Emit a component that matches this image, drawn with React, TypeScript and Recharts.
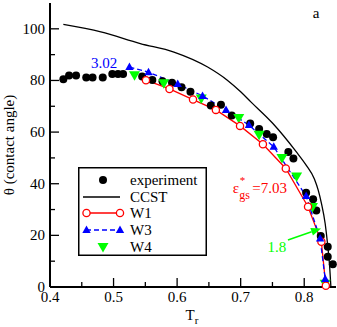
import React from 'react'
import { ComposedChart, Line, Scatter, XAxis, YAxis, Legend, ReferenceDot, ReferenceLine } from 'recharts'

// experimental contact angles
const experiment = [
  { x: 0.421, y: 80.5 }, { x: 0.430, y: 81.9 }, { x: 0.441, y: 81.9 }, { x: 0.457, y: 81.1 },
  { x: 0.467, y: 81.1 }, { x: 0.483, y: 81.1 }, { x: 0.498, y: 82.5 }, { x: 0.507, y: 82.5 },
  { x: 0.515, y: 82.5 }, { x: 0.545, y: 81.5 }, { x: 0.561, y: 80.2 }, { x: 0.577, y: 79.7 },
  { x: 0.592, y: 79.1 }, { x: 0.607, y: 77.4 }, { x: 0.621, y: 75.6 }, { x: 0.653, y: 70.3 },
  { x: 0.669, y: 70.6 }, { x: 0.686, y: 66.4 }, { x: 0.715, y: 63.3 }, { x: 0.729, y: 61.2 },
  { x: 0.741, y: 59.3 }, { x: 0.751, y: 58.0 }, { x: 0.775, y: 52.3 }, { x: 0.783, y: 49.8 },
  { x: 0.803, y: 36.5 }, { x: 0.814, y: 34.0 }, { x: 0.819, y: 29.6 }, { x: 0.826, y: 19.8 },
  { x: 0.837, y: 15.6 }, { x: 0.837, y: 11.7 }, { x: 0.845, y: 8.8 },
]

const ccst = [
  { x: 0.421, y: 101.7 }, { x: 0.480, y: 98.8 }, { x: 0.542, y: 94.3 }, { x: 0.595, y: 91.0 },
  { x: 0.648, y: 85.2 }, { x: 0.679, y: 80.1 }, { x: 0.700, y: 75.6 }, { x: 0.716, y: 71.7 },
  { x: 0.750, y: 63.5 }, { x: 0.787, y: 52.5 }, { x: 0.803, y: 47.2 }, { x: 0.816, y: 41.8 },
  { x: 0.822, y: 37.5 }, { x: 0.827, y: 32.5 }, { x: 0.833, y: 24.5 }, { x: 0.837, y: 16.0 },
  { x: 0.840, y: 8.0 }, { x: 0.842, y: 0 },
]

const w1 = [
  { x: 0.551, y: 80.1 }, { x: 0.588, y: 76.7 }, { x: 0.625, y: 72.6 }, { x: 0.661, y: 68.6 },
  { x: 0.699, y: 62.4 }, { x: 0.735, y: 55.3 }, { x: 0.771, y: 45.9 }, { x: 0.806, y: 31.1 },
  { x: 0.827, y: 17.5 }, { x: 0.834, y: 0.5 },
]

const w3 = [
  { x: 0.525, y: 85.2 }, { x: 0.555, y: 83.2 }, { x: 0.601, y: 78.6 }, { x: 0.640, y: 74.0 },
  { x: 0.677, y: 68.6 }, { x: 0.713, y: 62.7 }, { x: 0.752, y: 54.3 }, { x: 0.803, y: 35.2 },
  { x: 0.825, y: 18.8 }, { x: 0.833, y: 3.1 },
]

const w4 = [
  { x: 0.533, y: 82.0 }, { x: 0.579, y: 78.9 }, { x: 0.638, y: 73.0 }, { x: 0.697, y: 65.5 },
  { x: 0.729, y: 59.0 }, { x: 0.765, y: 50.0 }, { x: 0.788, y: 42.8 }, { x: 0.813, y: 31.0 },
  { x: 0.833, y: 1.3 },
]

const xTicks = [0.4, 0.45, 0.5, 0.55, 0.6, 0.65, 0.7, 0.75, 0.8]
const yTicks = [0, 10, 20, 30, 40, 50, 60, 70, 80, 90, 100]

const RED = '#ff0000'
const BLUE = '#0000ff'
const GREEN = '#00ff00'
const FONT = "'Liberation Serif', 'DejaVu Serif', serif"
const txt = { fontFamily: FONT }

const isMajorX = (v: number) => Math.abs(v * 10 - Math.round(v * 10)) < 1e-6
const isMajorY = (v: number) => v % 20 === 0

// tick renderers: ticks point inward
const BottomTick = (p: any) => {
  const v = p.payload.value
  const major = isMajorX(v)
  return (
    <g>
      <line x1={p.x} y1={p.y} x2={p.x} y2={p.y - (major ? 9 : 5)} stroke="#000" strokeWidth={1.3} />
      {major && (
        <text x={p.x} y={p.y + 15} textAnchor="middle" fontSize={15} fill="#000" style={txt}>
          {v.toFixed(1)}
        </text>
      )}
    </g>
  )
}
const TopTick = (p: any) => {
  const major = isMajorX(p.payload.value)
  return <line x1={p.x} y1={p.y} x2={p.x} y2={p.y + (major ? 9 : 5)} stroke="#000" strokeWidth={1.3} />
}
const LeftTick = (p: any) => {
  const v = p.payload.value
  const major = isMajorY(v)
  return (
    <g>
      <line x1={p.x} y1={p.y} x2={p.x + (major ? 9 : 5)} y2={p.y} stroke="#000" strokeWidth={1.3} />
      {major && (
        <text x={p.x - 5} y={p.y + 5} textAnchor="end" fontSize={15} fill="#000" style={txt}>
          {v}
        </text>
      )}
    </g>
  )
}
const RightTick = (p: any) => {
  const major = isMajorY(p.payload.value)
  return <line x1={p.x} y1={p.y} x2={p.x - (major ? 9 : 5)} y2={p.y} stroke="#000" strokeWidth={1.3} />
}

// markers
const dotExp = (cx: number, cy: number, k?: any) => <circle key={k} cx={cx} cy={cy} r={4} fill="#000" />
const dotW1 = (cx: number, cy: number, k?: any) => (
  <circle key={k} cx={cx} cy={cy} r={3.6} fill="#fff" stroke={RED} strokeWidth={1.3} />
)
const triUp = (cx: number, cy: number, k?: any) => (
  <polygon key={k} points={`${cx},${cy - 4.5} ${cx - 4.2},${cy + 3} ${cx + 4.2},${cy + 3}`} fill={BLUE} />
)
const triDown = (cx: number, cy: number, k?: any) => (
  <polygon key={k} points={`${cx - 5.5},${cy - 4} ${cx + 5.5},${cy - 4} ${cx},${cy + 5.5}`} fill={GREEN} />
)

const Arrow = (p: any) => {
  const { x1, y1, x2, y2 } = p
  const dx = x2 - x1
  const dy = y2 - y1
  const len = Math.sqrt(dx * dx + dy * dy)
  const ux = dx / len
  const uy = dy / len
  const bx = x2 - ux * 10
  const by = y2 - uy * 10
  const hw = 4
  return (
    <g>
      <line x1={x1} y1={y1} x2={bx} y2={by} stroke={GREEN} strokeWidth={1.5} />
      <polygon
        points={`${x2},${y2} ${bx - uy * hw},${by + ux * hw} ${bx + uy * hw},${by - ux * hw}`}
        fill={GREEN}
      />
    </g>
  )
}

const LegendBox = () => (
  <svg width={130} height={90} style={txt}>
    <rect x={0.75} y={0.75} width={127.5} height={87.5} fill="#fff" stroke="#000" strokeWidth={1.5} />
    {dotExp(25, 13)}
    <text x={52} y={18} fontSize={15} style={txt}>experiment</text>
    <line x1={5} y1={30} x2={42} y2={30} stroke="#000" strokeWidth={1.3} />
    <text x={52} y={35} fontSize={15} style={txt}>CCST</text>
    <line x1={8} y1={46} x2={42} y2={46} stroke={RED} strokeWidth={1.3} />
    {dotW1(8.5, 46)}
    {dotW1(42, 46)}
    <text x={52} y={51} fontSize={15} style={txt}>W1</text>
    <line x1={8} y1={63} x2={42} y2={63} stroke={BLUE} strokeWidth={1.3} strokeDasharray="5 3" />
    {triUp(8.5, 63)}
    {triUp(42, 63)}
    <text x={52} y={68} fontSize={15} style={txt}>W3</text>
    {triDown(25, 80)}
    <text x={52} y={85} fontSize={15} style={txt}>W4</text>
  </svg>
)

export default function App() {
  return (
    <div style={{ position: 'absolute', left: 0, top: 0, background: '#fff' }}>
      <ComposedChart
        width={337}
        height={327}
        margin={{ top: 3, right: 1, bottom: 0, left: 0 }}
        style={txt}
      >
        <XAxis
          xAxisId={0}
          type="number"
          dataKey="x"
          domain={[0.4, 0.85]}
          ticks={xTicks}
          interval={0}
          height={40}
          tickSize={0}
          tickMargin={0}
          tickLine={false}
          tick={BottomTick}
          axisLine={{ stroke: '#000', strokeWidth: 2 }}
          label={{
            content: () => (
              <text x={192} y={320} textAnchor="middle" fontSize={15} style={txt}>
                T<tspan dy={4} fontSize={11}>r</tspan>
              </text>
            ),
          }}
        />
        <XAxis
          xAxisId="top"
          orientation="top"
          type="number"
          domain={[0.4, 0.85]}
          ticks={xTicks}
          interval={0}
          height={0}
          tickSize={0}
          tickMargin={0}
          tickLine={false}
          tick={TopTick}
          axisLine={{ stroke: '#000', strokeWidth: 2 }}
        />
        <YAxis
          yAxisId={0}
          type="number"
          dataKey="y"
          domain={[0, 110]}
          ticks={yTicks}
          interval={0}
          width={50}
          tickSize={0}
          tickMargin={0}
          tickLine={false}
          tick={LeftTick}
          axisLine={{ stroke: '#000', strokeWidth: 2 }}
          label={{
            content: () => (
              <text
                x={13.5}
                y={145}
                transform="rotate(-90 13.5 145)"
                textAnchor="middle"
                fontSize={15}
                style={txt}
              >
                θ  (contact angle)
              </text>
            ),
          }}
        />
        <YAxis
          yAxisId="right"
          orientation="right"
          type="number"
          domain={[0, 110]}
          ticks={yTicks}
          interval={0}
          width={0}
          tickSize={0}
          tickMargin={0}
          tickLine={false}
          tick={RightTick}
          axisLine={{ stroke: '#000', strokeWidth: 2 }}
        />

        <Line
          data={ccst}
          dataKey="y"
          type="monotone"
          stroke="#000"
          strokeWidth={1.3}
          dot={false}
          activeDot={false}
          isAnimationActive={false}
        />
        <Scatter
          data={experiment}
          dataKey="y"
          shape={(p: any) => dotExp(p.cx, p.cy)}
          isAnimationActive={false}
        />
        <Line
          data={w1}
          dataKey="y"
          type="linear"
          stroke={RED}
          strokeWidth={1.3}
          dot={(p: any) => dotW1(p.cx, p.cy, p.index)}
          activeDot={false}
          isAnimationActive={false}
        />
        <Line
          data={w3}
          dataKey="y"
          type="linear"
          stroke={BLUE}
          strokeWidth={1.3}
          strokeDasharray="5 3"
          dot={(p: any) => triUp(p.cx, p.cy, p.index)}
          activeDot={false}
          isAnimationActive={false}
        />
        <Scatter
          data={w4}
          dataKey="y"
          shape={(p: any) => triDown(p.cx, p.cy)}
          isAnimationActive={false}
        />

        <ReferenceLine segment={[{ x: 0.7744, y: 18.2 }, { x: 0.8265, y: 22.7 }]} shape={Arrow} />
        <ReferenceDot
          x={0.485}
          y={86.8}
          r={0}
          shape={(p: any) => (
            <text x={p.cx} y={p.cy + 5} textAnchor="middle" fontSize={15} fill={BLUE} style={txt}>
              3.02
            </text>
          )}
        />
        <ReferenceDot
          x={0.757}
          y={15.5}
          r={0}
          shape={(p: any) => (
            <text x={p.cx} y={p.cy + 5} textAnchor="middle" fontSize={15} fill={GREEN} style={txt}>
              1.8
            </text>
          )}
        />
        <ReferenceDot
          x={0.6875}
          y={36.4}
          r={0}
          shape={(p: any) => (
            <text fontSize={15} fill={RED} style={txt}>
              <tspan x={p.cx} y={p.cy}>ε</tspan>
              <tspan x={p.cx + 7} y={p.cy - 9} fontSize={11}>*</tspan>
              <tspan x={p.cx + 6.5} y={p.cy + 6} fontSize={12}>gs</tspan>
              <tspan x={p.cx + 19.5} y={p.cy}>=7.03</tspan>
            </text>
          )}
        />
        <ReferenceDot
          x={0.8}
          y={108}
          r={0}
          shape={(p: any) => (
            <text x={316} y={p.cy + 10} textAnchor="middle" fontSize={15} fill="#000" style={txt}>
              a
            </text>
          )}
        />

        <Legend
          layout="vertical"
          align="center"
          verticalAlign="middle"
          content={LegendBox}
          wrapperStyle={{ position: 'absolute', left: 78, top: 167, width: 130, height: 90 }}
        />
      </ComposedChart>
    </div>
  )
}
